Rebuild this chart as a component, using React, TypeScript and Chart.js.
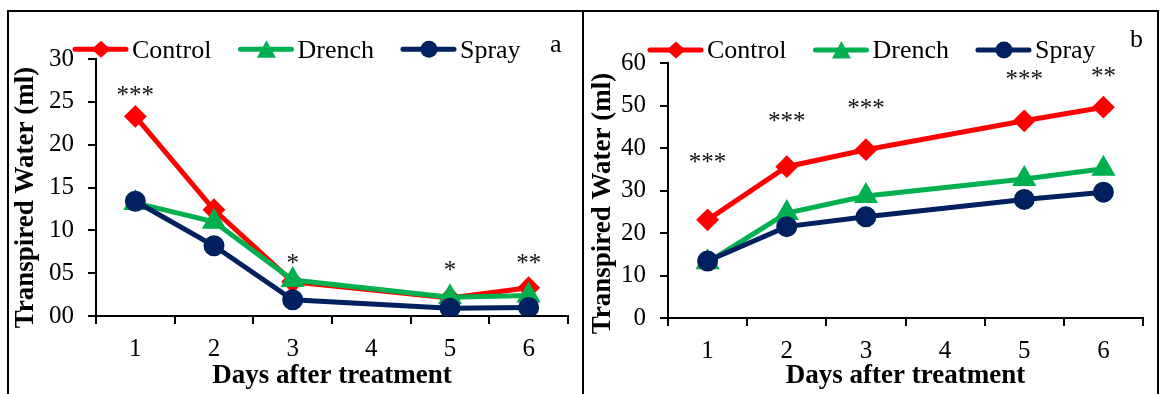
import React, { useEffect, useRef } from 'react';
import { Chart, registerables } from 'chart.js';

Chart.register(...registerables);

const FONT = '"Liberation Serif", "Times New Roman", serif';
const RED = '#FF0000';
const GREEN = '#00B050';
const NAVY = '#002060';

// Shared categories
const days = ['1', '2', '3', '4', '5', '6'];
const seriesNames = ['Control', 'Drench', 'Spray'];

// Panel a
const controlA = [23.3, 12.4, 4.0, null, 2.1, 3.3];
const drenchA = [13.2, 11.0, 4.2, null, 2.2, 2.4];
const sprayA = [13.4, 8.2, 1.9, null, 0.9, 1.0];
const sigA = ['***', '', '*', '', '*', '**'];
const sigLevelA = [26.3, null, 6.65, null, 5.8, 6.6];
const yTickLabelsA = ['00', '05', '10', '15', '20', '25', '30'];

// Panel b
const controlB = [23.1, 35.6, 39.6, null, 46.4, 49.6];
const drenchB = [13.1, 24.7, 28.7, null, 32.7, 35.1];
const sprayB = [13.4, 21.5, 23.8, null, 27.9, 29.6];
const sigB = ['***', '***', '***', '', '***', '**'];
const sigLevelB = [37.6, 47.3, 50.4, null, 57.2, 57.9];
const yTickLabelsB = ['0', '10', '20', '30', '40', '50', '60'];

const yTitle = 'Transpired Water (ml)';
const xTitle = 'Days after treatment';

type Lay = {
  padTop: number;
  padRight: number;
  yWidth: number;
  xHeight: number;
  yTitleX: number;
  yTitleShift: number;
  legendX: number;
  legendY: number;
  letterX: number;
  letterY: number;
};

type PanelProps = {
  control: (number | null)[];
  drench: (number | null)[];
  spray: (number | null)[];
  sig: string[];
  sigLevel: (number | null)[];
  yMax: number;
  yStep: number;
  yLabels: string[];
  letter: string;
  lay: Lay;
  left: number;
};

function drawLegendMarker(ctx: CanvasRenderingContext2D, style: string, x: number, y: number, color: string) {
  ctx.fillStyle = color;
  ctx.beginPath();
  if (style === 'rectRot') {
    ctx.moveTo(x - 9.5, y);
    ctx.lineTo(x, y - 8.5);
    ctx.lineTo(x + 9.5, y);
    ctx.lineTo(x, y + 8.5);
  } else if (style === 'triangle') {
    ctx.moveTo(x, y - 9);
    ctx.lineTo(x + 9.5, y + 8.5);
    ctx.lineTo(x - 9.5, y + 8.5);
  } else {
    ctx.arc(x, y, 8.5, 0, Math.PI * 2);
  }
  ctx.closePath();
  ctx.fill();
}

function Panel(p: PanelProps) {
  const ref = useRef<HTMLCanvasElement>(null);
  useEffect(() => {
    const lay = p.lay;
    const colors = [RED, GREEN, NAVY];
    const styles = ['rectRot', 'triangle', 'circle'];
    const decor = {
      id: 'decor',
      afterDraw(chart: any) {
        const { ctx, chartArea } = chart;
        const xs = chart.scales.x;
        const ys = chart.scales.y;
        // y-axis title
        ctx.save();
        ctx.fillStyle = '#000';
        ctx.font = `bold 27px ${FONT}`;
        ctx.textAlign = 'center';
        ctx.textBaseline = 'middle';
        ctx.translate(lay.yTitleX, (chartArea.top + chartArea.bottom) / 2 + lay.yTitleShift);
        ctx.rotate(-Math.PI / 2);
        ctx.fillText(yTitle, 0, 0);
        ctx.restore();
        // significance stars
        ctx.save();
        ctx.fillStyle = '#111';
        ctx.font = `25px ${FONT}`;
        ctx.textAlign = 'center';
        ctx.textBaseline = 'alphabetic';
        p.sig.forEach((s, i) => {
          const lv = p.sigLevel[i];
          if (!s || lv == null) return;
          const m = ctx.measureText(s);
          const px = xs.getPixelForValue(i);
          const py = ys.getPixelForValue(lv);
          ctx.fillText(s, px, py + (m.actualBoundingBoxAscent - m.actualBoundingBoxDescent) / 2);
        });
        ctx.restore();
        // legend
        ctx.save();
        ctx.font = `26px ${FONT}`;
        let x = lay.legendX;
        const y = lay.legendY;
        seriesNames.forEach((name, i) => {
          ctx.strokeStyle = colors[i];
          ctx.lineWidth = 5;
          ctx.lineCap = 'round';
          ctx.beginPath();
          ctx.moveTo(x + 2, y);
          ctx.lineTo(x + 53, y);
          ctx.stroke();
          drawLegendMarker(ctx, styles[i], x + 28, y, colors[i]);
          ctx.fillStyle = '#000';
          ctx.textAlign = 'left';
          ctx.textBaseline = 'alphabetic';
          ctx.fillText(name, x + 59, y + 8.3);
          x += 59 + ctx.measureText(name).width + 27;
        });
        ctx.fillText(p.letter, lay.letterX, lay.letterY);
        ctx.restore();
      },
    };
    const ds = (label: string, data: (number | null)[], color: string, style: string, r: number, order: number) => ({
      label,
      data,
      borderColor: color,
      backgroundColor: color,
      pointBackgroundColor: color,
      pointBorderColor: color,
      pointStyle: style,
      pointRadius: r,
      pointBorderWidth: 2,
      borderWidth: 5,
      spanGaps: true,
      order,
    });
    const chart = new Chart(ref.current as HTMLCanvasElement, {
      type: 'line',
      data: {
        labels: days,
        datasets: [
          ds(seriesNames[0], p.control, RED, 'rectRot', 10, 2),
          ds(seriesNames[1], p.drench, GREEN, 'triangle', 12, 1),
          ds(seriesNames[2], p.spray, NAVY, 'circle', 9.5, 0),
        ] as any,
      },
      options: {
        animation: false,
        responsive: false,
        events: [],
        layout: { padding: { top: lay.padTop, right: lay.padRight, left: 0, bottom: 0 } },
        plugins: { legend: { display: false }, tooltip: { enabled: false } },
        scales: {
          x: {
            type: 'category',
            offset: true,
            grid: { offset: true, drawOnChartArea: false, drawTicks: true, tickLength: 8, color: '#000', lineWidth: 2 },
            border: { display: true, color: '#000', width: 2 },
            ticks: { color: '#000', font: { family: FONT, size: 25 }, padding: 10, maxRotation: 0, autoSkip: false },
            title: {
              display: true,
              text: xTitle,
              color: '#000',
              font: { family: FONT, size: 27, weight: 'bold' },
              padding: { top: 0, bottom: 1.5 },
            },
            afterFit: (s: any) => {
              s.height = lay.xHeight;
            },
          },
          y: {
            min: 0,
            max: p.yMax,
            grid: { drawOnChartArea: false, drawTicks: true, tickLength: 8, color: '#000', lineWidth: 2 },
            border: { display: true, color: '#000', width: 2 },
            ticks: {
              stepSize: p.yStep,
              color: '#000',
              font: { family: FONT, size: 25 },
              padding: 14,
              callback: (_v: any, i: number) => p.yLabels[i],
            },
            afterFit: (s: any) => {
              s.width = lay.yWidth;
            },
          },
        },
      } as any,
      plugins: [decor as any],
    });
    return () => chart.destroy();
  }, []);
  return (
    <div
      style={{
        position: 'absolute',
        left: p.left,
        top: 10,
        width: 573,
        height: 382,
        borderTop: '2px solid #000',
        borderLeft: '2px solid #000',
        borderRight: '2px solid #000',
        background: '#fff',
      }}
    >
      <canvas ref={ref} width={573} height={382} style={{ display: 'block', width: 573, height: 382 }} />
    </div>
  );
}

export default function App() {
  const layA: Lay = {
    padTop: 47,
    padRight: 7,
    yWidth: 87,
    xHeight: 78,
    yTitleX: 17,
    yTitleShift: 10,
    legendX: 64,
    legendY: 37.3,
    letterX: 541,
    letterY: 40,
  };
  const layB: Lay = {
    padTop: 51,
    padRight: 4,
    yWidth: 84,
    xHeight: 76,
    yTitleX: 19,
    yTitleShift: 13,
    legendX: 64,
    legendY: 38,
    letterX: 546,
    letterY: 35,
  };
  return (
    <div style={{ position: 'absolute', left: 0, top: 0, width: 1161, height: 394, background: '#fff', overflow: 'hidden' }}>
      <Panel
        control={controlA}
        drench={drenchA}
        spray={sprayA}
        sig={sigA}
        sigLevel={sigLevelA}
        yMax={30}
        yStep={5}
        yLabels={yTickLabelsA}
        letter="a"
        lay={layA}
        left={7}
      />
      <Panel
        control={controlB}
        drench={drenchB}
        spray={sprayB}
        sig={sigB}
        sigLevel={sigLevelB}
        yMax={60}
        yStep={10}
        yLabels={yTickLabelsB}
        letter="b"
        lay={layB}
        left={582}
      />
    </div>
  );
}
